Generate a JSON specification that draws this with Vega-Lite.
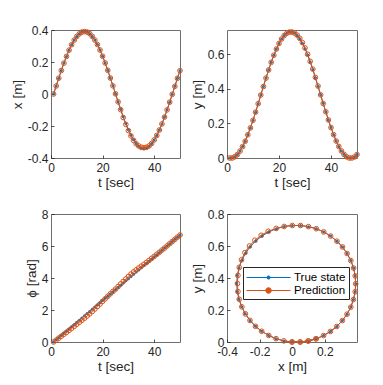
{
  "$schema": "https://vega.github.io/schema/vega-lite/v6.json",
  "background": "white",
  "padding": {"left": 9, "top": 23, "right": 5, "bottom": 5},
  "datasets": {
    "d": [
      {"s":"True state","t":1,"x":0.000,"y":0.000,"p":0.000},
      {"s":"True state","t":2,"x":0.050,"y":0.000,"p":0.137},
      {"s":"True state","t":3,"x":0.099,"y":0.007,"p":0.273},
      {"s":"True state","t":4,"x":0.147,"y":0.020,"p":0.410},
      {"s":"True state","t":5,"x":0.193,"y":0.040,"p":0.546},
      {"s":"True state","t":6,"x":0.235,"y":0.066,"p":0.683},
      {"s":"True state","t":7,"x":0.274,"y":0.097,"p":0.819},
      {"s":"True state","t":8,"x":0.308,"y":0.134,"p":0.956},
      {"s":"True state","t":9,"x":0.337,"y":0.174,"p":1.092},
      {"s":"True state","t":10,"x":0.360,"y":0.218,"p":1.229},
      {"s":"True state","t":11,"x":0.376,"y":0.265,"p":1.365},
      {"s":"True state","t":12,"x":0.387,"y":0.314,"p":1.502},
      {"s":"True state","t":13,"x":0.390,"y":0.364,"p":1.638},
      {"s":"True state","t":14,"x":0.387,"y":0.414,"p":1.775},
      {"s":"True state","t":15,"x":0.377,"y":0.462,"p":1.911},
      {"s":"True state","t":16,"x":0.360,"y":0.509,"p":2.048},
      {"s":"True state","t":17,"x":0.337,"y":0.553,"p":2.184},
      {"s":"True state","t":18,"x":0.309,"y":0.594,"p":2.321},
      {"s":"True state","t":19,"x":0.275,"y":0.630,"p":2.457},
      {"s":"True state","t":20,"x":0.236,"y":0.662,"p":2.594},
      {"s":"True state","t":21,"x":0.194,"y":0.688,"p":2.730},
      {"s":"True state","t":22,"x":0.148,"y":0.708,"p":2.867},
      {"s":"True state","t":23,"x":0.100,"y":0.721,"p":3.003},
      {"s":"True state","t":24,"x":0.051,"y":0.728,"p":3.140},
      {"s":"True state","t":25,"x":0.001,"y":0.728,"p":3.276},
      {"s":"True state","t":26,"x":-0.048,"y":0.722,"p":3.413},
      {"s":"True state","t":27,"x":-0.096,"y":0.708,"p":3.549},
      {"s":"True state","t":28,"x":-0.142,"y":0.689,"p":3.686},
      {"s":"True state","t":29,"x":-0.185,"y":0.663,"p":3.822},
      {"s":"True state","t":30,"x":-0.223,"y":0.632,"p":3.959},
      {"s":"True state","t":31,"x":-0.258,"y":0.596,"p":4.095},
      {"s":"True state","t":32,"x":-0.286,"y":0.555,"p":4.232},
      {"s":"True state","t":33,"x":-0.309,"y":0.511,"p":4.368},
      {"s":"True state","t":34,"x":-0.326,"y":0.464,"p":4.505},
      {"s":"True state","t":35,"x":-0.337,"y":0.415,"p":4.641},
      {"s":"True state","t":36,"x":-0.340,"y":0.365,"p":4.778},
      {"s":"True state","t":37,"x":-0.337,"y":0.316,"p":4.914},
      {"s":"True state","t":38,"x":-0.327,"y":0.267,"p":5.051},
      {"s":"True state","t":39,"x":-0.310,"y":0.220,"p":5.187},
      {"s":"True state","t":40,"x":-0.288,"y":0.176,"p":5.324},
      {"s":"True state","t":41,"x":-0.259,"y":0.135,"p":5.460},
      {"s":"True state","t":42,"x":-0.225,"y":0.098,"p":5.597},
      {"s":"True state","t":43,"x":-0.187,"y":0.067,"p":5.733},
      {"s":"True state","t":44,"x":-0.144,"y":0.041,"p":5.870},
      {"s":"True state","t":45,"x":-0.099,"y":0.021,"p":6.006},
      {"s":"True state","t":46,"x":-0.051,"y":0.007,"p":6.143},
      {"s":"True state","t":47,"x":-0.002,"y":0.000,"p":6.279},
      {"s":"True state","t":48,"x":0.048,"y":0.000,"p":6.416},
      {"s":"True state","t":49,"x":0.098,"y":0.006,"p":6.552},
      {"s":"True state","t":50,"x":0.146,"y":0.020,"p":6.689},
      {"s":"Prediction","t":1,"x":0.000,"y":0.000,"p":0.000},
      {"s":"Prediction","t":2,"x":0.050,"y":0.000,"p":0.117},
      {"s":"Prediction","t":3,"x":0.099,"y":0.007,"p":0.243},
      {"s":"Prediction","t":4,"x":0.147,"y":0.020,"p":0.360},
      {"s":"Prediction","t":5,"x":0.193,"y":0.040,"p":0.486},
      {"s":"Prediction","t":6,"x":0.235,"y":0.066,"p":0.603},
      {"s":"Prediction","t":7,"x":0.274,"y":0.097,"p":0.729},
      {"s":"Prediction","t":8,"x":0.308,"y":0.134,"p":0.856},
      {"s":"Prediction","t":9,"x":0.337,"y":0.174,"p":0.982},
      {"s":"Prediction","t":10,"x":0.360,"y":0.218,"p":1.109},
      {"s":"Prediction","t":11,"x":0.376,"y":0.265,"p":1.235},
      {"s":"Prediction","t":12,"x":0.387,"y":0.314,"p":1.362},
      {"s":"Prediction","t":13,"x":0.390,"y":0.364,"p":1.488},
      {"s":"Prediction","t":14,"x":0.387,"y":0.413,"p":1.625},
      {"s":"Prediction","t":15,"x":0.377,"y":0.462,"p":1.761},
      {"s":"Prediction","t":16,"x":0.360,"y":0.509,"p":1.908},
      {"s":"Prediction","t":17,"x":0.337,"y":0.553,"p":2.064},
      {"s":"Prediction","t":18,"x":0.309,"y":0.594,"p":2.221},
      {"s":"Prediction","t":19,"x":0.275,"y":0.630,"p":2.377},
      {"s":"Prediction","t":20,"x":0.236,"y":0.662,"p":2.544},
      {"s":"Prediction","t":21,"x":0.194,"y":0.688,"p":2.700},
      {"s":"Prediction","t":22,"x":0.148,"y":0.708,"p":2.857},
      {"s":"Prediction","t":23,"x":0.100,"y":0.721,"p":3.013},
      {"s":"Prediction","t":24,"x":0.051,"y":0.728,"p":3.160},
      {"s":"Prediction","t":25,"x":0.001,"y":0.728,"p":3.306},
      {"s":"Prediction","t":26,"x":-0.049,"y":0.722,"p":3.463},
      {"s":"Prediction","t":27,"x":-0.098,"y":0.710,"p":3.629},
      {"s":"Prediction","t":28,"x":-0.147,"y":0.692,"p":3.786},
      {"s":"Prediction","t":29,"x":-0.190,"y":0.667,"p":3.942},
      {"s":"Prediction","t":30,"x":-0.229,"y":0.636,"p":4.099},
      {"s":"Prediction","t":31,"x":-0.262,"y":0.600,"p":4.245},
      {"s":"Prediction","t":32,"x":-0.290,"y":0.559,"p":4.382},
      {"s":"Prediction","t":33,"x":-0.311,"y":0.514,"p":4.508},
      {"s":"Prediction","t":34,"x":-0.325,"y":0.466,"p":4.625},
      {"s":"Prediction","t":35,"x":-0.333,"y":0.416,"p":4.741},
      {"s":"Prediction","t":36,"x":-0.336,"y":0.365,"p":4.858},
      {"s":"Prediction","t":37,"x":-0.333,"y":0.315,"p":4.974},
      {"s":"Prediction","t":38,"x":-0.325,"y":0.267,"p":5.101},
      {"s":"Prediction","t":39,"x":-0.309,"y":0.220,"p":5.227},
      {"s":"Prediction","t":40,"x":-0.287,"y":0.176,"p":5.354},
      {"s":"Prediction","t":41,"x":-0.259,"y":0.135,"p":5.480},
      {"s":"Prediction","t":42,"x":-0.225,"y":0.098,"p":5.607},
      {"s":"Prediction","t":43,"x":-0.187,"y":0.067,"p":5.743},
      {"s":"Prediction","t":44,"x":-0.144,"y":0.041,"p":5.870},
      {"s":"Prediction","t":45,"x":-0.099,"y":0.021,"p":6.006},
      {"s":"Prediction","t":46,"x":-0.051,"y":0.007,"p":6.143},
      {"s":"Prediction","t":47,"x":-0.002,"y":0.000,"p":6.279},
      {"s":"Prediction","t":48,"x":0.048,"y":0.000,"p":6.416},
      {"s":"Prediction","t":49,"x":0.098,"y":0.006,"p":6.552},
      {"s":"Prediction","t":50,"x":0.146,"y":0.020,"p":6.689}
    ]
  },
  "data": {"name": "d"},
  "columns": 2,
  "spacing": {"row": 56, "column": 47},
  "bounds": "flush",
  "resolve": {"scale": {"color": "independent"}, "legend": {"color": "independent"}},
  "config": {
    "font": "Liberation Sans",
    "view": {"stroke": "#6e6e6e", "strokeWidth": 1},
    "axis": {
      "grid": false, "domain": false,
      "tickSize": -3, "tickColor": "#262626", "tickWidth": 0.8,
      "labelFont": "Liberation Sans", "labelFontSize": 12, "labelColor": "#262626",
      "labelPadding": 6, "labelFlush": false, "labelOverlap": false, "labelBound": false,
      "titleFont": "Liberation Sans", "titleFontSize": 13.5, "titleColor": "#262626",
      "titleFontWeight": "normal", "titlePadding": 3,
      "labelExpr": "'' + datum.value"
    },
    "axisX": {"labelPadding": 7, "titlePadding": 2}
  },
  "concat": [
    {
      "width": 129, "height": 128,
      "encoding": {
        "x": {"field": "t", "type": "quantitative", "scale": {"domain": [0, 50], "nice": false, "zero": false}, "axis": {"values": [0, 20, 40], "title": "t [sec]"}},
        "y": {"field": "x", "type": "quantitative", "scale": {"domain": [-0.4, 0.4], "nice": false, "zero": false}, "axis": {"values": [-0.4, -0.2, 0, 0.2, 0.4], "title": "x [m]"}},
        "color": {"field": "s", "type": "nominal", "scale": {"domain": ["True state", "Prediction"], "range": ["#0072BD", "#D95319"]}, "legend": null}
      },
      "layer": [
        {"transform": [{"filter": "datum.s == 'True state'"}], "mark": {"type": "line", "strokeWidth": 1}},
        {"transform": [{"filter": "datum.s == 'True state'"}], "mark": {"type": "point", "filled": true, "size": 9, "opacity": 1}},
        {"transform": [{"filter": "datum.s == 'Prediction'"}], "mark": {"type": "line", "strokeWidth": 1}},
        {"transform": [{"filter": "datum.s == 'Prediction'"}], "mark": {"type": "point", "filled": false, "size": 22, "strokeWidth": 1, "opacity": 1}}
      ]
    },
    {
      "width": 130, "height": 128,
      "encoding": {
        "x": {"field": "t", "type": "quantitative", "scale": {"domain": [0, 50], "nice": false, "zero": false}, "axis": {"values": [0, 20, 40], "title": "t [sec]"}},
        "y": {"field": "y", "type": "quantitative", "scale": {"domain": [0, 0.74], "nice": false, "zero": false}, "axis": {"values": [0, 0.2, 0.4, 0.6], "title": "y [m]"}},
        "color": {"field": "s", "type": "nominal", "scale": {"domain": ["True state", "Prediction"], "range": ["#0072BD", "#D95319"]}, "legend": null}
      },
      "layer": [
        {"transform": [{"filter": "datum.s == 'True state'"}], "mark": {"type": "line", "strokeWidth": 1}},
        {"transform": [{"filter": "datum.s == 'True state'"}], "mark": {"type": "point", "filled": true, "size": 9, "opacity": 1}},
        {"transform": [{"filter": "datum.s == 'Prediction'"}], "mark": {"type": "line", "strokeWidth": 1}},
        {"transform": [{"filter": "datum.s == 'Prediction'"}], "mark": {"type": "point", "filled": false, "size": 22, "strokeWidth": 1, "opacity": 1}}
      ]
    },
    {
      "width": 129, "height": 128,
      "encoding": {
        "x": {"field": "t", "type": "quantitative", "scale": {"domain": [0, 50], "nice": false, "zero": false}, "axis": {"values": [0, 20, 40], "title": "t [sec]"}},
        "y": {"field": "p", "type": "quantitative", "scale": {"domain": [0, 8], "nice": false, "zero": false}, "axis": {"values": [0, 2, 4, 6, 8], "title": "ϕ [rad]"}},
        "color": {"field": "s", "type": "nominal", "scale": {"domain": ["True state", "Prediction"], "range": ["#0072BD", "#D95319"]}, "legend": null}
      },
      "layer": [
        {"transform": [{"filter": "datum.s == 'True state'"}], "mark": {"type": "line", "strokeWidth": 1}},
        {"transform": [{"filter": "datum.s == 'True state'"}], "mark": {"type": "point", "filled": true, "size": 9, "opacity": 1}},
        {"transform": [{"filter": "datum.s == 'Prediction'"}], "mark": {"type": "line", "strokeWidth": 1}},
        {"transform": [{"filter": "datum.s == 'Prediction'"}], "mark": {"type": "point", "filled": false, "size": 22, "strokeWidth": 1, "opacity": 1}}
      ]
    },
    {
      "width": 130, "height": 128,
      "encoding": {
        "x": {"field": "x", "type": "quantitative", "scale": {"domain": [-0.4, 0.398], "nice": false, "zero": false}, "axis": {"values": [-0.4, -0.2, 0, 0.2], "title": "x [m]"}},
        "y": {"field": "y", "type": "quantitative", "scale": {"domain": [0, 0.8], "nice": false, "zero": false}, "axis": {"values": [0, 0.2, 0.4, 0.6, 0.8], "title": "y [m]"}},
        "order": {"field": "t", "type": "quantitative"},
        "color": {
          "field": "s", "type": "nominal",
          "scale": {"domain": ["True state", "Prediction"], "range": ["#0072BD", "#D95319"]},
          "legend": {
            "title": null, "orient": "none", "legendX": 16, "legendY": 53,
            "padding": 3, "strokeColor": "#262626", "fillColor": "white",
            "labelFont": "Liberation Sans", "labelFontSize": 11.5, "labelColor": "#000000",
            "symbolSize": 196, "symbolStrokeWidth": 1, "symbolOpacity": 1,
            "symbolFillColor": "white",
            "labelOffset": 33, "rowPadding": 0,
            "symbolType": "M-1,0L5.3,0",
            "encode": {
              "symbols": {
                "update": {
                  "shape": {"signal": "datum.value == 'True state' ? 'M-1,0L5.3,0M2.38,0A0.23,0.23 0 1,1 1.92,0A0.23,0.23 0 1,1 2.38,0' : 'M-1,0L1.75,0M2.55,0L5.3,0M2.55,0A0.4,0.4 0 1,1 1.75,0A0.4,0.4 0 1,1 2.55,0'"},
                  "fill": {"signal": "datum.value == 'True state' ? '#0072BD' : '#ffffff'"},
                  "stroke": {"signal": "datum.value == 'True state' ? '#0072BD' : '#D95319'"},
                  "strokeWidth": {"value": 1},
                  "opacity": {"value": 1}
                }
              }
            }
          }
        }
      },
      "layer": [
        {"transform": [{"filter": "datum.s == 'True state'"}], "mark": {"type": "line", "strokeWidth": 1}},
        {"transform": [{"filter": "datum.s == 'True state'"}], "mark": {"type": "point", "filled": true, "size": 9, "opacity": 1}},
        {"transform": [{"filter": "datum.s == 'Prediction'"}], "mark": {"type": "line", "strokeWidth": 1}},
        {"transform": [{"filter": "datum.s == 'Prediction'"}], "mark": {"type": "point", "filled": false, "size": 22, "strokeWidth": 1, "opacity": 1}}
      ]
    }
  ]
}
